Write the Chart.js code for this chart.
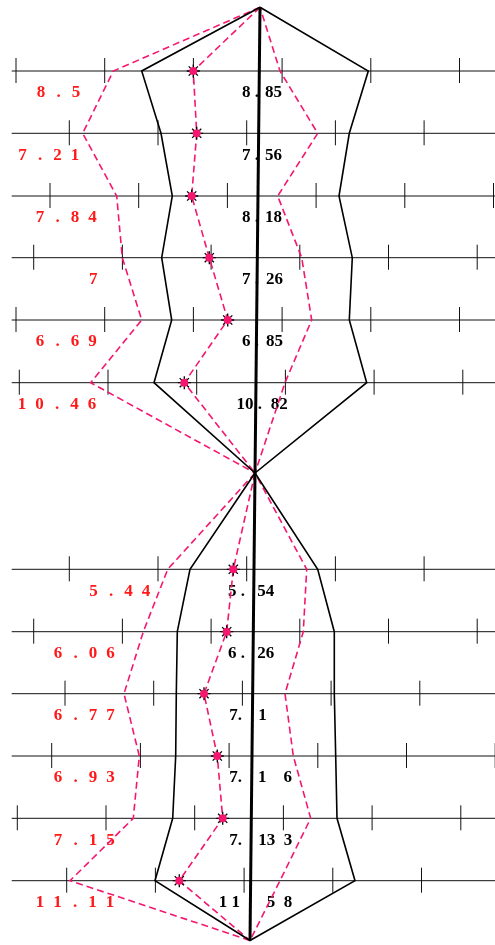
<!DOCTYPE html>
<html>
<head>
<meta charset="utf-8">
<script src="https://cdn.jsdelivr.net/npm/chart.js@4.4.0/dist/chart.umd.min.js"></script>
<style>
  html, body { margin: 0; padding: 0; background: #fff; }
  #wrap { width: 495px; height: 945px; }
</style>
</head>
<body>
<div id="wrap"><canvas id="c" width="495" height="945"></canvas></div>
<script>
// rows (y value units, 0..945) and the three apex points
const topRows = [71, 133.3, 196, 257.7, 320, 382.7];
const bottomRows = [569.3, 631.7, 693.7, 756, 818.3, 880.7];
const apexTop = { x: 260, y: 7.3 };
const apexMid = { x: 255, y: 473 };
const apexBottom = { x: 250, y: 940.5 };

// values printed on each row
const topRed = [8.5, 7.21, 7.84, 7, 6.69, 10.46];
const topBlack = [8.85, 7.56, 8.18, 7.26, 6.85, 10.82];
const bottomRed = [5.44, 6.06, 6.77, 6.93, 7.15, 11.11];
const bottomBlack = [5.54, 6.26, 7.1, 7.16, 7.33, 11.58];

// how the black values show up: integer part | decimals
const topBlackText = ['8 .|85', '7 .|56', '8 .|18', '7 .|26', '6 .|85', '10 .|82'];
const bottomBlackText = ['5 .|54', '6 .|26', '7.|1', '7.|1    6', '7.|13  3', '1 1|5  8'];

// outline x values per row
const topSolidL = [141.7, 161, 172.3, 161.7, 171.7, 154];
const topSolidR = [368.3, 349.3, 339, 352.3, 349.3, 366.7];
const topDashL = [113.3, 82.7, 116.7, 122.3, 141.7, 90.7];
const topDashR = [280, 317.7, 277.7, 301.7, 311.7, 285];
const topMid = [193.3, 196.7, 191.7, 209.3, 227.7, 184.3];

const bottomSolidL = [190, 177.3, 176.3, 175.7, 172.7, 155];
const bottomSolidR = [317.7, 334.3, 334.3, 335.7, 337, 355];
const bottomDashL = [167.7, 143.3, 124, 139.3, 133.3, 70];
const bottomDashR = [306.7, 303.3, 285, 293.3, 310.7, 280];
const bottomMid = [233.3, 226.7, 204, 217.3, 222.7, 179.3];

// row axis ticks: first tick per row and common step
const topTickStart = [16, -19.4, 50, 33.7, 16, 19.3];
const bottomTickStart = [-19.4, 33.7, 65, 51.7, 17.3, 66.7];
const tickStep = 88.7;

// label layout
const layout = {
  rowStartX: 11.7,
  labelDy: 22,
  charStep: 17.5,
  topRedX: [41, 22.5, 40, 93.3, 40, 22],
  bottomRedX: [93.5, 58, 58, 58, 58, 40],
  topIntRight: [259, 259, 259, 259, 259, 262],
  topDecLeft: [265, 265, 265, 266, 266, 270.7],
  bottomIntRight: [245, 245, 242, 242, 242, 240],
  bottomDecLeft: [257.3, 257.3, 258.3, 258, 258.3, 266.7]
};

const PINK = '#f5176f';
const RED = '#ff1a1a';

const outline = (a, b, rows, L, R) => [
  a,
  ...rows.map((y, i) => ({ x: L[i], y })),
  b,
  ...rows.map((y, i) => ({ x: R[i], y })).reverse(),
  a
];
const path = (a, b, rows, M) => [a, ...rows.map((y, i) => ({ x: M[i], y })), b];
const marks = (rows, M) => rows.map((y, i) => ({ x: M[i], y }));

const rowsPlugin = {
  id: 'rows',
  beforeDatasetsDraw(chart) {
    const { ctx, scales: { x, y } } = chart;
    ctx.save();
    const groups = [
      [topRows, topTickStart, topRed, topBlackText, layout.topRedX, layout.topIntRight, layout.topDecLeft],
      [bottomRows, bottomTickStart, bottomRed, bottomBlackText, layout.bottomRedX, layout.bottomIntRight, layout.bottomDecLeft]
    ];
    groups.forEach(([rows, ticks, red, blackText, redX, intRight, decLeft]) => {
      rows.forEach((row, i) => {
        const py = y.getPixelForValue(row);
        ctx.strokeStyle = '#111';
        ctx.lineWidth = 1;
        ctx.beginPath();
        ctx.moveTo(x.getPixelForValue(layout.rowStartX), py);
        ctx.lineTo(x.getPixelForValue(495), py);
        ctx.stroke();
        for (let t = ticks[i]; t <= 496; t += tickStep) {
          if (t < layout.rowStartX) continue;
          const px = x.getPixelForValue(t);
          ctx.beginPath();
          ctx.moveTo(px, py - 13);
          ctx.lineTo(px, py + 12);
          ctx.stroke();
        }
        // red letter-spaced value
        ctx.font = 'bold 17px "Liberation Serif", serif';
        ctx.textBaseline = 'middle';
        ctx.textAlign = 'center';
        ctx.fillStyle = RED;
        String(red[i]).split('').forEach((ch, k) => {
          ctx.fillText(ch, redX[i] + k * layout.charStep, py + layout.labelDy);
        });
        // black value, split around the center line
        const [ip, dp] = blackText[i].split('|');
        ctx.fillStyle = '#000';
        ctx.textAlign = 'right';
        ctx.fillText(ip, intRight[i], py + layout.labelDy);
        ctx.textAlign = 'left';
        ctx.fillText(dp, decLeft[i], py + layout.labelDy);
      });
    });
    ctx.restore();
  }
};

const lineDs = (data, color, width, dash, order) => ({
  data, showLine: true, borderColor: color, borderWidth: width,
  borderDash: dash, pointRadius: 0, tension: 0, fill: false, order
});

new Chart(document.getElementById('c'), {
  type: 'scatter',
  data: {
    datasets: [
      { data: marks(topRows, topMid).concat(marks(bottomRows, bottomMid)), pointStyle: 'circle',
        pointRadius: 4, backgroundColor: PINK, borderWidth: 0, order: 0 },
      { data: marks(topRows, topMid).concat(marks(bottomRows, bottomMid)), pointStyle: 'star',
        pointRadius: 6.5, borderColor: '#000', borderWidth: 1.3, order: 1 },
      lineDs([apexTop, apexBottom], '#000', 3, [], 2),
      lineDs(outline(apexTop, apexMid, topRows, topSolidL, topSolidR), '#000', 1.6, [], 3),
      lineDs(outline(apexMid, apexBottom, bottomRows, bottomSolidL, bottomSolidR), '#000', 1.6, [], 3),
      lineDs(outline(apexTop, apexMid, topRows, topDashL, topDashR), PINK, 1.6, [7, 4], 4),
      lineDs(outline(apexMid, apexBottom, bottomRows, bottomDashL, bottomDashR), PINK, 1.6, [7, 4], 4),
      lineDs(path(apexTop, apexMid, topRows, topMid), PINK, 1.6, [7, 4], 4),
      lineDs(path(apexMid, apexBottom, bottomRows, bottomMid), PINK, 1.6, [7, 4], 4)
    ]
  },
  options: {
    responsive: false,
    devicePixelRatio: 1,
    animation: false,
    events: [],
    layout: { padding: 0, autoPadding: false },
    scales: {
      x: { type: 'linear', min: 0, max: 495, display: false },
      y: { type: 'linear', min: 0, max: 945, reverse: true, display: false }
    },
    plugins: { legend: { display: false }, tooltip: { enabled: false } }
  },
  plugins: [rowsPlugin]
});
</script>
</body>
</html>
